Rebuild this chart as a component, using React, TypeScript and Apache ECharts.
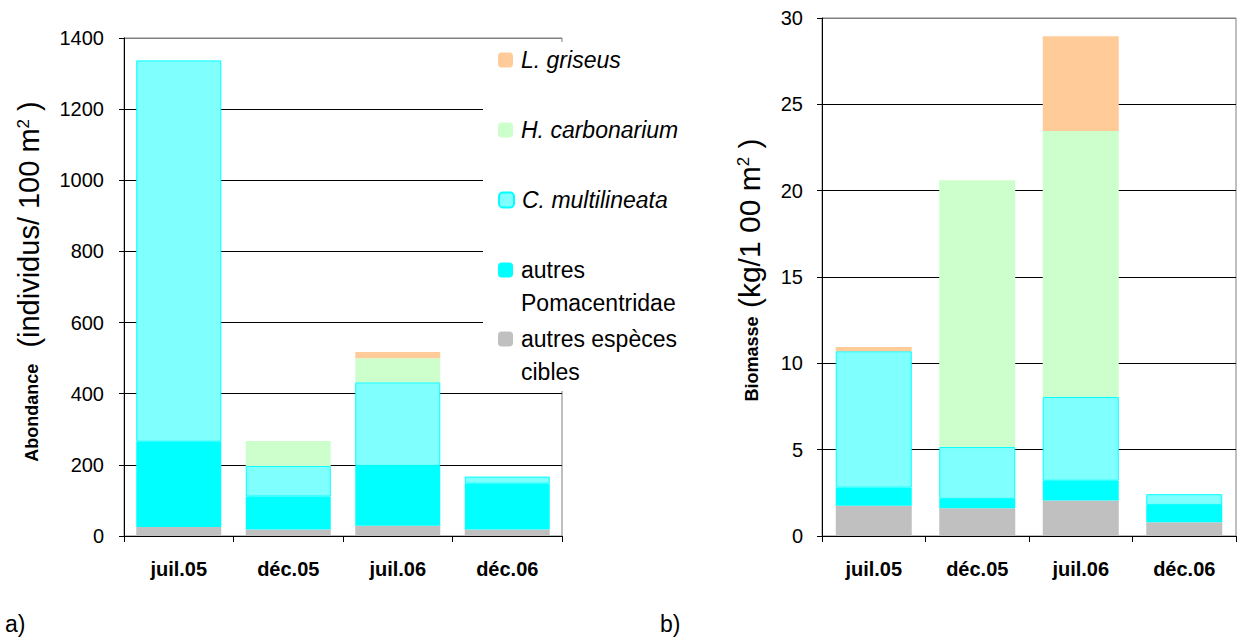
import React, { useEffect, useRef } from "react";
import * as echarts from "echarts";

// Sampling dates
const categories = ["juil.05", "déc.05", "juil.06", "déc.06"];

// Abundance (individuals / 100 m²), stacked from bottom to top
const abAutresCibles = [25, 18, 29, 18];
const abAutresPoma = [240, 93, 168, 129];
const abCMulti = [1072, 86, 235, 20];
const abHCarb = [0, 70, 68, 0];
const abLGris = [0, 0, 17, 0];

// Biomass (kg / 100 m²), stacked from bottom to top
const bmAutresCibles = [1.75, 1.6, 2.05, 0.8];
const bmAutresPoma = [1.05, 0.55, 1.15, 1.0];
const bmCMulti = [7.9, 3.0, 4.85, 0.62];
const bmHCarb = [0, 15.45, 15.4, 0];
const bmLGris = [0.25, 0, 5.5, 0];

const seriesNames = [
  "autres espèces cibles",
  "autres Pomacentridae",
  "C. multilineata",
  "H. carbonarium",
  "L. griseus",
];

const FONT = '"Liberation Sans", Arial, Helvetica, sans-serif';

const seriesStyles = [
  { color: "#C0C0C0" },
  { color: "#00FFFF" },
  { color: "#80FFFF", borderColor: "#00FFFF", borderWidth: 1 },
  { color: "#CCFFCC" },
  { color: "#FFCC99" },
];

// Legend entries, listed top to bottom; multi-line labels start with an empty
// line so the marker sits next to the first line of text.
const legendEntries = [
  { name: "L. griseus", label: "L. griseus", italic: true, cy: 60, lines: 1 },
  { name: "H. carbonarium", label: "H. carbonarium", italic: true, cy: 130, lines: 1 },
  { name: "C. multilineata", label: "C. multilineata", italic: true, cy: 200, lines: 1 },
  { name: "autres Pomacentridae", label: "\nautres\nPomacentridae", italic: false, cy: 270, lines: 3 },
  { name: "autres espèces cibles", label: "\nautres espèces\ncibles", italic: false, cy: 339, lines: 3 },
];

const nameRich = (boldSize: number, regularSize: number) => ({
  heavy: { fontFamily: FONT, fontSize: boldSize, fontWeight: "bold", color: "#000", lineHeight: 30, padding: [6, 0, 0, 0] },
  plain: { fontFamily: FONT, fontSize: regularSize, color: "#000", lineHeight: 30 },
  sup: { fontFamily: FONT, fontSize: 17, color: "#000", lineHeight: 30, padding: [0, 0, 11, 0] },
});

export default function App() {
  const ref = useRef<HTMLDivElement>(null);

  useEffect(() => {
    if (!ref.current) return;
    const chart = echarts.init(ref.current, null, { renderer: "svg" });

    const abData = [abAutresCibles, abAutresPoma, abCMulti, abHCarb, abLGris];
    const bmData = [bmAutresCibles, bmAutresPoma, bmCMulti, bmHCarb, bmLGris];

    const makeSeries = (data: number[][], idx: number, stack: string, barWidth: number) =>
      data.map((vals, i) => ({
        name: seriesNames[i],
        type: "bar",
        stack,
        xAxisIndex: idx,
        yAxisIndex: idx,
        barWidth,
        data: vals,
        itemStyle: seriesStyles[i],
        emphasis: { disabled: true },
      }));

    const catAxis = (gridIndex: number) => ({
      type: "category",
      gridIndex,
      data: categories,
      axisLine: { lineStyle: { color: "#000", width: 1 } },
      axisTick: { show: true, length: 6, lineStyle: { color: "#000" } },
      axisLabel: {
        fontFamily: FONT,
        fontSize: 20,
        fontWeight: "bold",
        color: "#000",
        margin: 23,
      },
    });

    const splitColors = (n: number) => {
      const arr: string[] = [];
      for (let i = 0; i < n; i++) arr.push(i === n - 1 ? "#808080" : "#000");
      return arr;
    };

    const legends = legendEntries.map((e) => {
      const lh = e.lines === 1 ? 26 : 33;
      const blockH = lh * e.lines;
      return {
        orient: "vertical",
        left: 498,
        top: e.cy - blockH / 2,
        padding: 0,
        itemWidth: 15,
        itemHeight: 15,
        selectedMode: false,
        data: [{ name: e.name, textStyle: { fontStyle: e.italic ? "italic" : "normal" } }],
        formatter: () => e.label,
        textStyle: { fontFamily: FONT, fontSize: 23, color: "#000", lineHeight: lh, padding: [0, 0, 0, 3] },
      };
    });

    const valueLabel = { fontFamily: FONT, fontSize: 20, color: "#000", formatter: (v: number) => String(v) };

    chart.setOption({
      animation: false,
      backgroundColor: "#fff",
      grid: [
        { left: 124, top: 38, width: 438, height: 498, show: true, borderColor: "#808080", borderWidth: 1 },
        { left: 822, top: 18, width: 414, height: 518, show: true, borderColor: "#808080", borderWidth: 1 },
      ],
      xAxis: [catAxis(0), catAxis(1)],
      yAxis: [
        {
          type: "value",
          gridIndex: 0,
          min: 0,
          max: 1400,
          interval: 200,
          axisLine: { show: true, lineStyle: { color: "#000" } },
          axisTick: { show: true, length: 5, lineStyle: { color: "#000" } },
          axisLabel: { ...valueLabel, margin: 20 },
          splitLine: { show: true, lineStyle: { color: splitColors(8), width: 1 } },
          name: "{heavy|Abondance}{plain|  (individus/ 100 m}{sup|2}{plain| )}",
          nameLocation: "middle",
          nameGap: 80,
          nameTextStyle: { fontFamily: FONT, fontSize: 18, rich: nameRich(18, 29), padding: [0, 0, 0, 11] },
        },
        {
          type: "value",
          gridIndex: 1,
          min: 0,
          max: 30,
          interval: 5,
          axisLine: { show: true, lineStyle: { color: "#000" } },
          axisTick: { show: true, length: 5, lineStyle: { color: "#000" } },
          axisLabel: { ...valueLabel, margin: 19 },
          splitLine: { show: true, lineStyle: { color: splitColors(7), width: 1 } },
          name: "{heavy|Biomasse}{plain| (kg/1 00 m}{sup|2}{plain| )}",
          nameLocation: "middle",
          nameGap: 58,
          nameTextStyle: { fontFamily: FONT, fontSize: 18, rich: nameRich(18, 30), padding: [0, 0, 0, 14] },
        },
      ],
      legend: legends,
      graphic: [
        // white panel behind the legend, hiding the grid lines it overlaps
        { type: "rect", shape: { x: 483, y: 42, width: 82, height: 349 }, style: { fill: "#fff" }, z: 3, silent: true },
        { type: "text", left: 5, top: 612, style: { text: "a)", fontFamily: FONT, fontSize: 23, fill: "#000" } },
        { type: "text", left: 660, top: 612, style: { text: "b)", fontFamily: FONT, fontSize: 23, fill: "#000" } },
      ],
      series: [...makeSeries(abData, 0, "ab", 85), ...makeSeries(bmData, 1, "bm", 76)],
    });

    return () => chart.dispose();
  }, []);

  return (
    <div
      ref={ref}
      style={{ position: "fixed", left: 0, top: 0, width: 1237, height: 637 }}
    />
  );
}
